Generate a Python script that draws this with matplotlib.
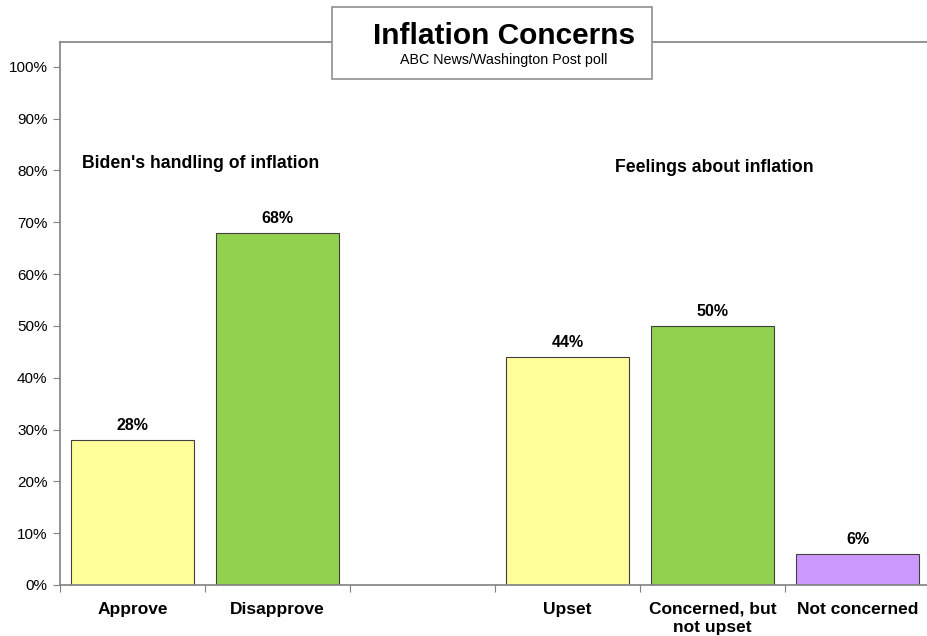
import matplotlib
matplotlib.use("Agg")
import matplotlib.pyplot as plt
from matplotlib.patches import Rectangle

plt.rcParams['font.family'] = ['Liberation Sans', 'DejaVu Sans']

categories = ["Approve", "Disapprove", "", "Upset", "Concerned, but\nnot upset", "Not concerned"]
values = [28, 68, None, 44, 50, 6]
colors = ["#FFFF99", "#92D050", None, "#FFFF99", "#92D050", "#CC99FF"]
yticks = [0, 10, 20, 30, 40, 50, 60, 70, 80, 90, 100]
title = "Inflation Concerns"
subtitle = "ABC News/Washington Post poll"
group_labels = ["Biden's handling of inflation", "Feelings about inflation"]

fig = plt.figure(figsize=(9.28, 6.36), dpi=100)
ax = fig.add_axes([60/928, 1-585/636, 870/928, (585-42)/636])

for i, (v, c) in enumerate(zip(values, colors)):
    if v is None:
        continue
    ax.bar(i + 0.5, v, width=0.85, color=c, edgecolor="#404040", linewidth=0.8, zorder=2)
    ax.text(i + 0.5, v + 1.3, f"{v}%", ha="center", va="bottom", fontsize=11.5, fontweight="bold")

ax.set_xlim(0, 6)
ax.set_ylim(0, 104.8)
ax.set_yticks(yticks)
ax.set_yticklabels([f"{t}%" for t in yticks], fontsize=11)
ax.set_xticks(range(0, 7))
ax.set_xticklabels([])
ax.set_xticks([i + 0.5 for i in range(6)], minor=True)
ax.set_xticklabels(categories, minor=True, fontsize=12.5, fontweight="bold", linespacing=1.3)
ax.tick_params(axis="x", which="minor", length=0, pad=12)
ax.tick_params(axis="x", which="major", length=5, color="#808080", direction="out")
ax.tick_params(axis="y", length=5, color="#808080", direction="out", pad=4)
for s in ["left", "bottom", "top"]:
    ax.spines[s].set_color("#808080")
    ax.spines[s].set_linewidth(1.2)
ax.spines["right"].set_visible(False)

ax.text(82/928, 1-163/636, group_labels[0], transform=fig.transFigure, ha="left", va="center",
        fontsize=12.7, fontweight="bold")
ax.text(615/928, 1-167/636, group_labels[1], transform=fig.transFigure, ha="left", va="center",
        fontsize=12.7, fontweight="bold")

rect = Rectangle((332/928, 1-79/636), (652-332)/928, (79-7)/636, transform=fig.transFigure,
                 facecolor="white", edgecolor="#909090", linewidth=1.2, zorder=5)
fig.patches.append(rect)
fig.text(504/928, 1-36/636, title, ha="center", va="center", fontsize=21.5, fontweight="bold", zorder=6)
fig.text(504/928, 1-60/636, subtitle, ha="center", va="center", fontsize=10.3, zorder=6)

fig.savefig("out.png", dpi=100)
